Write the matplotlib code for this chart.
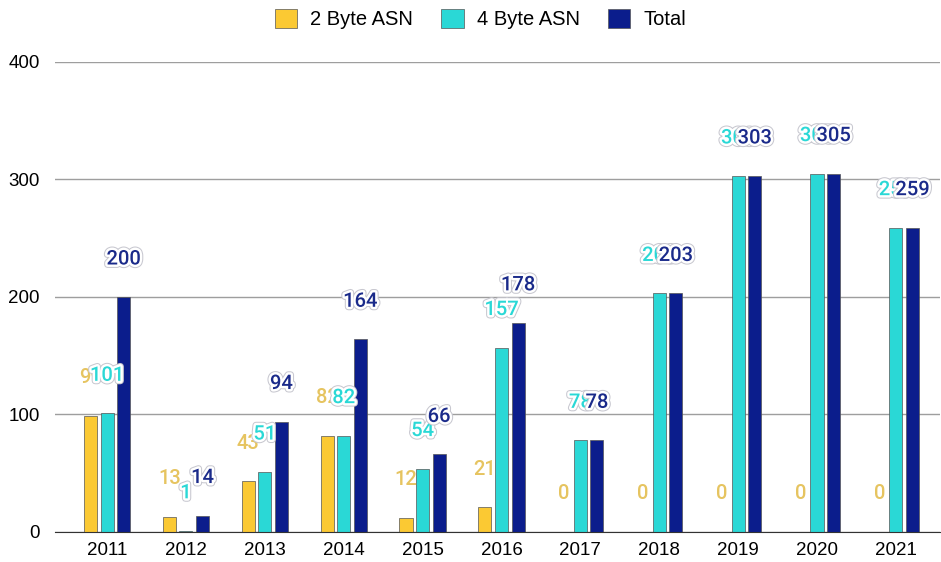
import numpy as np
import matplotlib.pyplot as plt
import matplotlib.patheffects as pe

years = ['2011', '2012', '2013', '2014', '2015', '2016', '2017', '2018', '2019', '2020', '2021']
asn2 = [99, 13, 43, 82, 12, 21, 0, 0, 0, 0, 0]
asn4 = [101, 1, 51, 82, 54, 157, 78, 203, 303, 305, 259]
total = [200, 14, 94, 164, 66, 178, 78, 203, 303, 305, 259]

series = [
    ('2 Byte ASN', asn2, '#FBC933', '#E6C460', False),
    ('4 Byte ASN', asn4, '#2AD8D6', '#2AD8D6', True),
    ('Total', total, '#0B1D8C', '#1A2A8A', True),
]

plt.rcParams['font.family'] = ['Liberation Sans', 'DejaVu Sans']

fig = plt.figure(figsize=(9.41, 5.62), dpi=100)
ax = fig.add_axes([0.0584, 0.0534, 0.9406, 0.8363])

x = np.arange(len(years))
width = 0.165
step = 0.21

halo = [pe.withStroke(linewidth=5, foreground='#C8C8D0'),
        pe.withStroke(linewidth=3.5, foreground='white')]

for i, (name, vals, color, lcolor, has_halo) in enumerate(series):
    pos = x + (i - 1) * step
    ax.bar(pos, vals, width, color=color, edgecolor='#555555', linewidth=0.5,
           label=name, zorder=3)
    for px, v in zip(pos, vals):
        t = ax.annotate(str(v), (px, v), xytext=(0, 38), textcoords='offset pixels',
                        ha='center', va='center', fontsize=14.5, color=lcolor,
                        fontweight='medium', family=['Roboto', 'DejaVu Sans'],
                        zorder=5 + i)
        if has_halo:
            t.set_path_effects(halo)

ax.set_ylim(0, 400)
ax.set_xlim(-0.66, 10.56)
ax.set_yticks([0, 100, 200, 300, 400])
ax.set_xticks(x)
ax.set_xticklabels(years)
ax.tick_params(axis='both', length=0, labelsize=13.5, pad=11)
ax.tick_params(axis='x', pad=7)
ax.grid(axis='y', color='#9E9E9E', linewidth=1, zorder=0)
for s in ['top', 'right', 'left']:
    ax.spines[s].set_visible(False)
ax.spines['bottom'].set_color('#333333')
ax.spines['bottom'].set_zorder(4)

fig.legend(loc='upper center', bbox_to_anchor=(0.5106, 1.017), ncol=3, frameon=False,
           fontsize=14.5, handlelength=1.1, handleheight=1.1, columnspacing=1.4,
           handletextpad=0.65)

plt.savefig('out.png', dpi=100)
